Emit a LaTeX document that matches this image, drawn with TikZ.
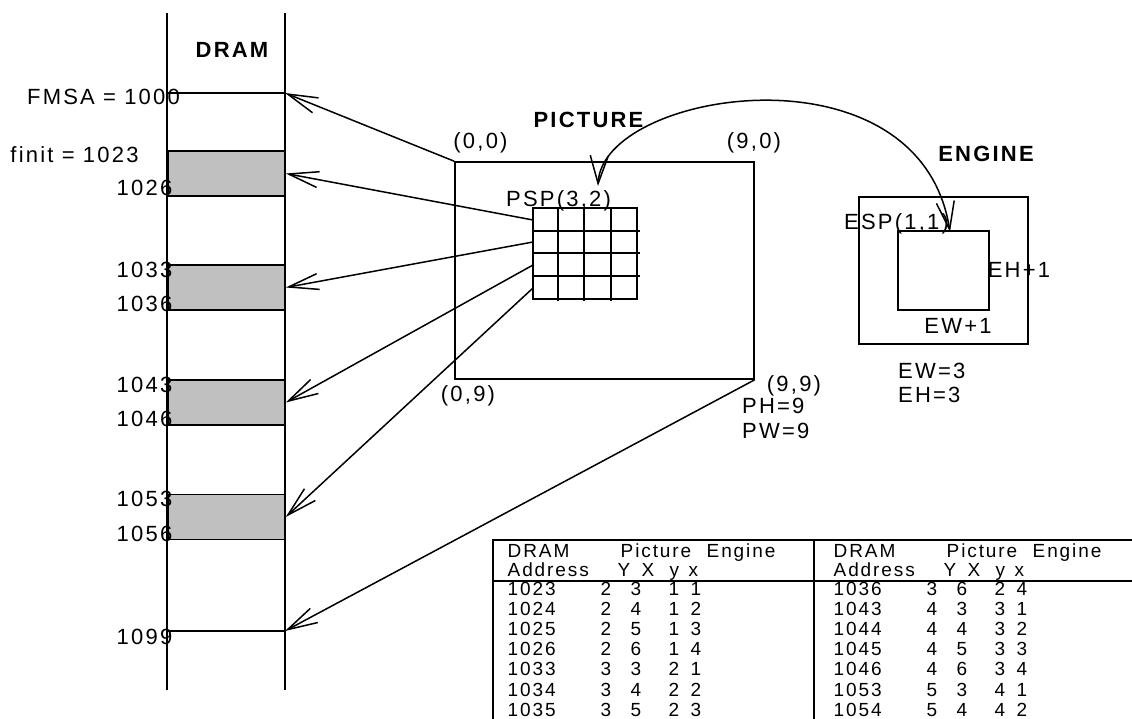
\documentclass[tikz,border=0pt]{standalone}
\usepackage{fontspec}
\setmainfont{Liberation Sans}[LetterSpace=10]
\usepackage{tikz}
\usetikzlibrary{arrows.meta}

\definecolor{cellgray}{RGB}{192,192,192}
\newcommand{\tcol}[2]{\makebox[0pt][l]{\hspace{#1}#2}}
\newcommand{\trow}[5]{\tcol{0pt}{#1}\tcol{93pt}{#2}\tcol{123pt}{#3}\tcol{161pt}{#4}\tcol{183pt}{#5}}
\newcommand{\tablehead}{\begin{tabular}[t]{@{}l@{}}\tcol{0pt}{DRAM}\tcol{113pt}{Picture}\tcol{199pt}{Engine}\\
  \tcol{0pt}{Address}\tcol{110pt}{Y}\tcol{134pt}{X}\tcol{162pt}{y}\tcol{181pt}{x}\end{tabular}}

\tikzstyle{txt} = [inner sep=0pt, anchor=base, font=\fontsize{22}{26}\selectfont]
\tikzstyle{heading} = [txt, font=\fontsize{22}{26}\selectfont\bfseries]
\tikzstyle{tbl} = [inner sep=0pt, anchor=base west, font=\fontsize{19}{20.1}\selectfont]
\tikzstyle{dramcell} = [rectangle, minimum width=117pt, minimum height=45pt, draw=black, fill=cellgray, line width=1.5pt]
\tikzstyle{outline} = [rectangle, draw=black, line width=1.5pt]
\tikzstyle{wire} = [line width=1.5pt]
\tikzstyle{arrow} = [line width=1.5pt, -{Straight Barb[length=30pt,width=16pt]}]
\tikzstyle{swaparrow} = [line width=1.5pt, {Straight Barb[length=28pt,width=18pt]}-{Straight Barb[length=28pt,width=18pt]}]

\begin{document}
\begin{tikzpicture}[x=1pt, y=-1pt]
        \useasboundingbox (0,0) rectangle (1132,719);

        % DRAM column
        \draw [wire] (167,13) -- (167,690);
        \draw [wire] (285,13) -- (285,690);
        \node (DramTitle) [heading] at (232,58) {DRAM};
        \coordinate (Fmsa) at (285,93);
        \coordinate (End1099) at (285,631);
        \draw [wire] (167,93) -- (Fmsa);
        \draw [wire] (167,631) -- (End1099);
        \node (Box1026) [dramcell] at (226.5,173.5) {};
        \node (Box1036) [dramcell] at (226.5,287.5) {};
        \node (Box1046) [dramcell] at (226.5,402.5) {};
        \node (Box1056) [dramcell] at (226.5,517) {};

        \node (FmsaText) [txt] at (103.5,105) {FMSA = 1000};
        \node (FinitText) [txt] at (74.5,163) {finit = 1023};
        \node (Addr1026) [txt] at (144.5,196) {1026};
        \node (Addr1033) [txt] at (144.5,277) {1033};
        \node (Addr1036) [txt] at (144.5,312) {1036};
        \node (Addr1043) [txt] at (144.5,392) {1043};
        \node (Addr1046) [txt] at (144.5,426) {1046};
        \node (Addr1053) [txt] at (144.5,506) {1053};
        \node (Addr1056) [txt] at (144.5,541) {1056};
        \node (Addr1099) [txt] at (144.5,644) {1099};

        % picture with the PSP window
        \node (Picture) [outline, minimum width=299pt, minimum height=217pt] at (604.5,270.5) {};
        \node (PictureTitle) [heading] at (588.5,128) {PICTURE};
        \node (Corner00) [txt] at (480.5,148.5) {(0,0)};
        \node (Corner90) [txt] at (754,148.5) {(9,0)};
        \node (Corner09) [txt] at (468,401.5) {(0,9)};
        \node (Corner99) [txt] at (794,391.5) {(9,9)};
        \node (PhText) [txt, anchor=base west] at (742,413) {PH=9};
        \node (PwText) [txt, anchor=base west] at (742,438) {PW=9};
        \node (PspText) [txt] at (558.5,207) {PSP(3,2)};

        \node (PspGrid) [outline, minimum width=104pt, minimum height=91pt] at (585,253.5) {};
        \draw [wire] (533,231) -- (640,231) (533,253) -- (640,253) (533,276) -- (640,276);
        \draw [wire] (558,208) -- (558,301) (584,208) -- (584,301) (611,208) -- (611,301);
        \coordinate (Row1) at (533,220);
        \coordinate (Row2) at (533,242);
        \coordinate (Row3) at (533,265);
        \coordinate (Row4) at (533,288);

        % engine
        \node (EngineBox) [outline, minimum width=169pt, minimum height=147pt] at (943.5,270.5) {};
        \node (EspBox) [outline, minimum width=91pt, minimum height=79pt] at (943.5,270.5) {};
        \node (EngineTitle) [heading] at (986,162) {ENGINE};
        \node (EspText) [txt] at (896.5,230) {ESP(1,1)};
        \node (EhText) [txt] at (1019,277) {EH+1};
        \node (EwText) [txt] at (958,333) {EW+1};
        \node (EwValue) [txt, anchor=base west] at (898,378) {EW=3};
        \node (EhValue) [txt, anchor=base west] at (898,402) {EH=3};

        \coordinate (PspTop) at (598,186);
        \coordinate (EspTop) at (950,232);

        % connectors
        \draw [arrow] (Picture.north west) -- (Fmsa);
        \draw [arrow] (Row1) -- (Box1026.east);
        \draw [arrow] (Row2) -- (Box1036.east);
        \draw [arrow] (Row3) -- (Box1046.east);
        \draw [arrow] (Row4) -- (Box1056.east);
        \draw [arrow] (Picture.south east) -- (End1099);
        \draw [swaparrow] (PspTop) .. controls (602,90) and (920,40) .. (EspTop);

        % address table
        \draw [wire] (493,719) -- (493,540) -- (1132,540);
        \draw [wire] (493,581) -- (1132,581);
        \draw [wire] (814,540) -- (814,719);
        \node (LeftHead) [tbl, font=\fontsize{19}{18}\selectfont] at (507,557) {\tablehead};
        \node (RightHead) [tbl, font=\fontsize{19}{18}\selectfont] at (833,557) {\tablehead};
        \node (LeftRows) [tbl] at (507,595.5) {\begin{tabular}[t]{@{}l@{}}
          \trow{1023}{2}{3}{1}{1}\\ \trow{1024}{2}{4}{1}{2}\\ \trow{1025}{2}{5}{1}{3}\\
          \trow{1026}{2}{6}{1}{4}\\ \trow{1033}{3}{3}{2}{1}\\ \trow{1034}{3}{4}{2}{2}\\
          \trow{1035}{3}{5}{2}{3}\end{tabular}};
        \node (RightRows) [tbl] at (833,595.5) {\begin{tabular}[t]{@{}l@{}}
          \trow{1036}{3}{6}{2}{4}\\ \trow{1043}{4}{3}{3}{1}\\ \trow{1044}{4}{4}{3}{2}\\
          \trow{1045}{4}{5}{3}{3}\\ \trow{1046}{4}{6}{3}{4}\\ \trow{1053}{5}{3}{4}{1}\\
          \trow{1054}{5}{4}{4}{2}\end{tabular}};

\end{tikzpicture}
\end{document}
